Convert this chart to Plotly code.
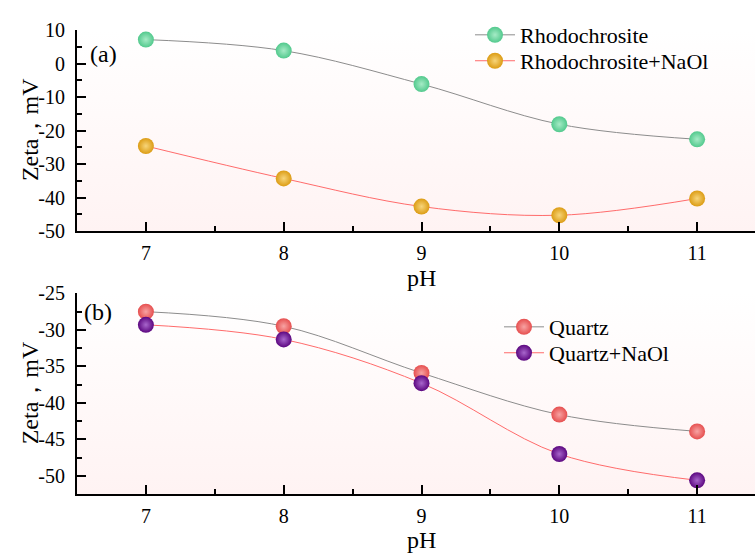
import base64
import plotly.graph_objects as go

# pH values (shared by both panels)
ph = [7, 8, 9, 10, 11]

# Panel (a): zeta potential, mV
rhodo = [7.2, 3.9, -6.1, -18.1, -22.6]
rhodo_naol = [-24.6, -34.3, -42.7, -45.3, -40.3]
ticks_a = [10, 0, -10, -20, -30, -40, -50]

# Panel (b): zeta potential, mV
quartz = [-27.5, -29.5, -35.9, -41.6, -43.9]
quartz_naol = [-29.3, -31.3, -37.3, -47.0, -50.6]
ticks_b = [-25, -30, -35, -40, -45, -50]

series_a = [
    ("Rhodochrosite", rhodo, "#52c98d", "#a6ebc6", "#8c8c8c"),
    ("Rhodochrosite+NaOl", rhodo_naol, "#dc9c14", "#f7d57a", "#ff6b6b"),
]
series_b = [
    ("Quartz", quartz, "#e64f4f", "#f7a3a3", "#8c8c8c"),
    ("Quartz+NaOl", quartz_naol, "#5c0780", "#a866cc", "#ff6b6b"),
]

FONT = "Liberation Serif"
W, H = 755, 558

fig = go.Figure()

# one legend per entry so each row can be placed on its own
legend_ids = ["legend", "legend2", "legend3", "legend4"]
legend_pos = [(470, 25), (470, 52), (499, 329), (499, 356)]


def add_series(series, xa, ya, ids):
    for (name, vals, col, hi, lcol), lid in zip(series, ids):
        fig.add_trace(go.Scatter(
            x=ph, y=vals, name=name, mode="lines+markers",
            xaxis=xa, yaxis=ya, legend=lid,
            line=dict(color=lcol, width=1, shape="spline", smoothing=1.0),
            marker=dict(size=16, color=col, line=dict(width=0),
                        gradient=dict(type="radial", color=hi)),
        ))


add_series(series_a, "x", "y", legend_ids[:2])
add_series(series_b, "x2", "y2", legend_ids[2:])

# soft white-to-pink backdrop for both plot areas
svg = ('<svg xmlns="http://www.w3.org/2000/svg" width="10" height="100" preserveAspectRatio="none">'
       '<defs><linearGradient id="g" x1="0" y1="0" x2="0" y2="1">'
       '<stop offset="0" stop-color="#ffffff"/><stop offset="1" stop-color="#fff3f3"/>'
       '</linearGradient></defs><rect width="10" height="100" fill="url(#g)"/></svg>')
bg = "data:image/svg+xml;base64," + base64.b64encode(svg.encode()).decode()
images = [dict(source=bg, xref=f"{xa} domain", yref=f"{ya} domain", x=0, y=1,
               sizex=1, sizey=1, sizing="stretch", layer="below", xanchor="left",
               yanchor="top") for xa, ya in (("x", "y"), ("x2", "y2"))]

left = 77 / W
dom_a = [1 - 229 / H, 1 - 20 / H]
dom_b = [1 - 503 / H, 1 - 294 / H]

axis_common = dict(
    showline=True, linecolor="black", linewidth=2, mirror=False,
    ticks="inside", ticklen=9, tickwidth=1.5, tickcolor="black",
    showgrid=False, zeroline=False,
    tickfont=dict(family=FONT, size=20, color="black"),
    ticklabelstandoff=6,
)
xaxis_common = dict(axis_common, range=[6.5, 11.42], tickvals=ph,
                    ticktext=[str(v) for v in ph], ticklabelstandoff=3,
                    minor=dict(ticks="inside", ticklen=5, tickwidth=1.5,
                               tickcolor="black", dtick=0.5, tick0=6.5),
                    domain=[left, 1])
minor_y = dict(ticks="inside", ticklen=5, tickwidth=1.5, tickcolor="black")

legends = {}
for lid, (lx, ly) in zip(legend_ids, legend_pos):
    legends[lid] = dict(x=lx / W, y=1 - ly / H, xanchor="left", yanchor="middle",
                        bgcolor="rgba(0,0,0,0)", font=dict(family=FONT, size=22),
                        itemwidth=40)

fig.update_layout(
    width=W, height=H,
    margin=dict(l=0, r=0, t=0, b=0),
    paper_bgcolor="white", plot_bgcolor="rgba(0,0,0,0)",
    font=dict(family=FONT, color="black"),
    images=images,
    xaxis=dict(xaxis_common, anchor="y"),
    yaxis=dict(axis_common, domain=dom_a, range=[-50, 10],
               tickvals=ticks_a, ticktext=[str(v) for v in ticks_a],
               minor=dict(minor_y, dtick=5), anchor="x"),
    xaxis2=dict(xaxis_common, anchor="y2"),
    yaxis2=dict(axis_common, domain=dom_b, range=[-52.5, -25],
                tickvals=ticks_b, ticktext=[str(v) for v in ticks_b],
                minor=dict(minor_y, dtick=2.5), anchor="x2"),
    showlegend=True,
    **legends,
)

annots = [
    dict(text="(a)", x=88 / W, y=1 - 45 / H, xanchor="left", yanchor="middle", size=24),
    dict(text="(b)", x=82 / W, y=1 - 313 / H, xanchor="left", yanchor="middle", size=24),
    dict(text="pH", x=421 / W, y=1 - 278 / H, xanchor="center", yanchor="middle", size=24),
    dict(text="pH", x=421 / W, y=1 - 551 / H, xanchor="center", yanchor="middle", size=24),
]
for a in annots:
    fig.add_annotation(text=a["text"], x=a["x"], y=a["y"], xref="paper", yref="paper",
                       xanchor=a["xanchor"], yanchor=a["yanchor"], showarrow=False,
                       font=dict(family=FONT, size=a["size"], color="black"))
for yc in (124, 398):
    fig.add_annotation(text="Zeta，mV", x=30 / W, y=1 - yc / H, xref="paper", yref="paper",
                       textangle=-90, showarrow=False, xanchor="center", yanchor="middle",
                       font=dict(family=FONT, size=24, color="black"))

fig.write_html("out.html")
